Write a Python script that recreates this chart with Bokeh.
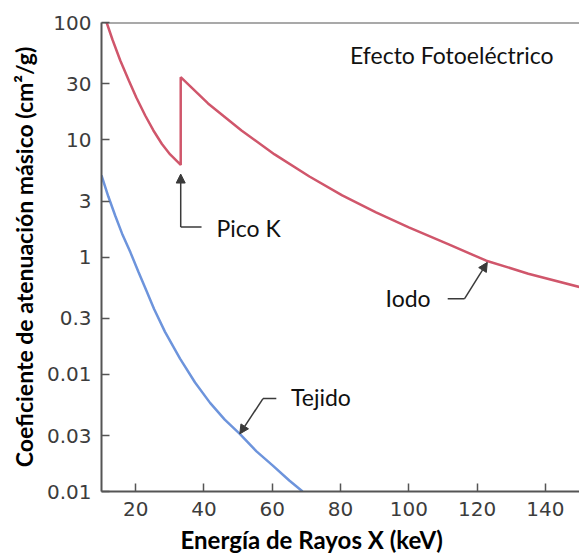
from bokeh.plotting import figure
from bokeh.models import FixedTicker, Span, Arrow, NormalHead, Label, Title
from bokeh.embed import file_html
from bokeh.resources import INLINE

# ---- data ----
iodo_e = [11.5, 13.2, 15.5, 18.0, 20.2, 22.8, 25.2, 27.7, 30.1, 33.2,
          33.2, 41.2, 51.0, 60.7, 70.9, 80.5, 90.4, 100.0, 111.7, 122.7, 135.0, 150.0]
iodo_mu = [100, 71.6, 47.4, 32.0, 22.9, 16.1, 12.0, 9.2, 7.5, 6.1,
           34.2, 20.4, 12.0, 7.5, 4.86, 3.35, 2.40, 1.79, 1.28, 0.93, 0.72, 0.555]

tejido_e = [10, 12, 14, 16, 18.5, 20.8, 23.1, 25.4, 28.6, 33.0, 37.4, 41.8,
            46.1, 50.5, 55.4, 60.1, 65.0, 68.9]
tejido_mu = [4.96, 3.28, 2.26, 1.59, 1.09, 0.75, 0.52, 0.36, 0.23, 0.136, 0.085,
             0.057, 0.041, 0.031, 0.022, 0.0167, 0.0124, 0.0100]

x_ticks = [20, 40, 60, 80, 100, 120, 140]
y_ticks = [0.01, 0.03, 0.1, 0.3, 1, 3, 10, 30, 100]
y_tick_labels = ["0.01", "0.03", "0.01", "0.3", "1", "3", "10", "30", "100"]

titulo = "Efecto Fotoeléctrico"
x_title = "Energía de Rayos X (keV)"
y_title = "Coeficiente de atenuación másico (cm²/g)"

# annotation anchors (data coordinates)
pico_tip = (33.2, 5.1)
pico_elbow = (33.2, 1.8)
pico_hend = 39.3
pico_text = (43.7, 1.77)

tej_tip = (50.5, 0.031)
tej_elbow = (57.3, 0.062)
tej_hend = 61.2
tej_text = (65.5, 0.0644)

iodo_tip = (123.0, 0.90)
iodo_elbow = (116.3, 0.44)
iodo_hstart = 111.4
iodo_text = (93.2, 0.445)

efecto_pos = (82.8, 53.3)

RED = "#d0566b"
BLUE = "#6d94dc"
AX = "#555555"
ARR = "#3a3a3a"
ANN_FONT = "Lato"

p = figure(width=579, height=557, x_range=(10, 150), y_range=(0.01, 100),
           y_axis_type="log", output_backend="svg", toolbar_location=None,
           min_border_left=101, min_border_top=22, min_border_bottom=66,
           min_border_right=0)
p.outline_line_color = None
p.xgrid.visible = False
p.ygrid.visible = False
p.background_fill_color = "white"
p.border_fill_color = "white"

# axes
for ax in (p.xaxis[0], p.yaxis[0]):
    ax.axis_line_color = AX
    ax.axis_line_width = 2
    ax.major_tick_line_color = AX
    ax.major_tick_line_width = 1.5
    ax.major_tick_in = 8
    ax.major_tick_out = 0
    ax.minor_tick_line_color = None
    ax.major_label_text_font = "DejaVu Sans"
    ax.major_label_text_font_size = "20px"
    ax.major_label_text_color = "#3c3c3c"
    ax.major_label_standoff = 10

p.xaxis.ticker = FixedTicker(ticks=x_ticks)
p.yaxis.ticker = FixedTicker(ticks=y_ticks)
p.yaxis.major_label_overrides = {t: l for t, l in zip(y_ticks, y_tick_labels)}

p.yaxis.axis_label = y_title
p.yaxis.axis_label_text_font = ANN_FONT
p.yaxis.axis_label_text_font_style = "bold"
p.yaxis.axis_label_text_font_size = "23px"
p.yaxis.axis_label_text_color = "black"
p.yaxis.axis_label_standoff = 6

# x-axis title (left-shifted like the reference)
xt = Title(text=x_title, align="left", offset=79, text_font=ANN_FONT,
           text_font_style="bold", text_font_size="24px", text_color="black",
           standoff=8)
p.add_layout(xt, "below")

# top border line
p.add_layout(Span(location=100, dimension="width", line_color=AX, line_width=2))

# curves
p.line(iodo_e, iodo_mu, line_color=RED, line_width=2.5)
p.line(tejido_e, tejido_mu, line_color=BLUE, line_width=2.5)

# arrows
def head():
    return NormalHead(size=9, fill_color=ARR, line_color=ARR, line_width=1)

p.line([pico_hend, pico_elbow[0]], [pico_elbow[1], pico_elbow[1]], line_color=ARR, line_width=1.5)
p.add_layout(Arrow(end=head(), x_start=pico_elbow[0], y_start=pico_elbow[1],
                   x_end=pico_tip[0], y_end=pico_tip[1], line_color=ARR, line_width=1.5))

p.line([tej_hend, tej_elbow[0]], [tej_elbow[1], tej_elbow[1]], line_color=ARR, line_width=1.5)
p.add_layout(Arrow(end=head(), x_start=tej_elbow[0], y_start=tej_elbow[1],
                   x_end=tej_tip[0], y_end=tej_tip[1], line_color=ARR, line_width=1.5))

p.line([iodo_hstart, iodo_elbow[0]], [iodo_elbow[1], iodo_elbow[1]], line_color=ARR, line_width=1.5)
p.add_layout(Arrow(end=head(), x_start=iodo_elbow[0], y_start=iodo_elbow[1],
                   x_end=iodo_tip[0], y_end=iodo_tip[1], line_color=ARR, line_width=1.5))

# text labels
for txt, pos in ((titulo, efecto_pos), ("Pico K", pico_text),
                 ("Tejido", tej_text), ("Iodo", iodo_text)):
    p.add_layout(Label(x=pos[0], y=pos[1], text=txt, text_font=ANN_FONT,
                       text_font_size="23px", text_color="#111111",
                       text_baseline="alphabetic", text_align="left"))

open("out.html", "w").write(file_html(p, INLINE))
